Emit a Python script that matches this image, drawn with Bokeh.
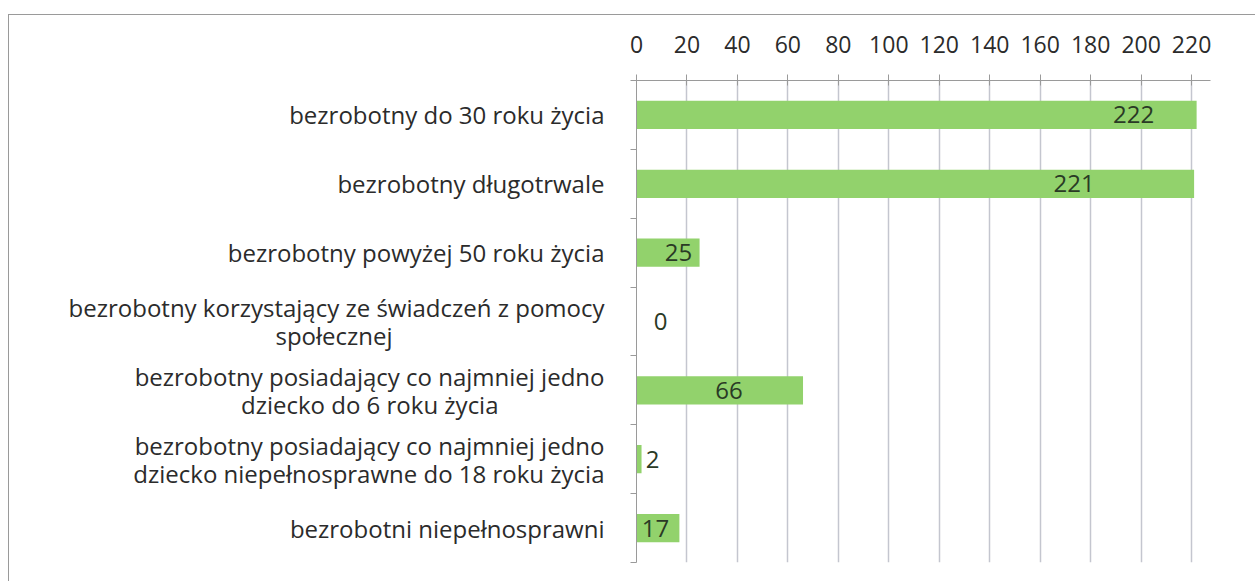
from bokeh.plotting import figure
from bokeh.models import ColumnDataSource, FixedTicker, Range1d
from bokeh.embed import file_html
from bokeh.resources import INLINE
from bokeh.core.properties import value

NB = "\u00a0"
categories = [
    "bezrobotny do 30 roku życia",
    "bezrobotny długotrwale",
    "bezrobotny powyżej 50 roku życia",
    "bezrobotny korzystający ze świadczeń z pomocy\nspołecznej",
    "bezrobotny posiadający co najmniej jedno\ndziecko do 6 roku życia",
    "bezrobotny posiadający co najmniej jedno\ndziecko niepełnosprawne do 18 roku życia",
    "bezrobotni niepełnosprawni",
]
values = [222, 221, 25, 0, 66, 2, 17]
x_ticks = [0, 20, 40, 60, 80, 100, 120, 140, 160, 180, 200, 220]

# label offsets (px) relative to bar end
label_offsets = [-63, -120, -21, 24, -74, 11, -24]
# right padding (non-breaking spaces) that centres the short line of a wrapped label
line_pad = {3: 34, 4: 17}

FONT = "Open Sans"
pos = list(range(len(categories)))
src = ColumnDataSource(dict(y=pos, v=values, lbl=[str(v) for v in values], off=label_offsets))


def axis_text(i, c):
    if i in line_pad:
        a, b = c.split("\n")
        return a + "\n" + b + NB * line_pad[i]
    return c


p = figure(width=1247, height=567, output_backend="svg", toolbar_location=None,
           x_range=Range1d(0, 227.5), y_range=Range1d(len(categories) - 0.5, -0.5),
           x_axis_location="above", min_border_left=627, min_border_right=46,
           min_border_top=65, min_border_bottom=20)
p.outline_line_color = None
p.background_fill_color = "white"
p.border_fill_color = "white"

p.hbar(y="y", left=0, right="v", height=0.41, source=src, fill_color="#92d26c", line_color=None)
p.text(x="v", y="y", text="lbl", x_offset="off", source=src, text_align="center",
       text_baseline="middle", text_font=value(FONT), text_font_size="24px", text_color="#2a3a25")

# x axis on top
xa = p.xaxis[0]
xa.ticker = FixedTicker(ticks=x_ticks)
xa.major_label_text_font = FONT
xa.major_label_text_font_size = "23px"
xa.major_label_text_color = "#2b2b2b"
xa.axis_line_color = "#9a9a9a"
xa.major_tick_line_color = "#9a9a9a"
xa.major_tick_out = 6
xa.major_tick_in = 5
xa.minor_tick_out = 0
xa.minor_tick_in = 0
xa.major_label_standoff = 22

# y axis
ya = p.yaxis[0]
ya.ticker = FixedTicker(ticks=pos, minor_ticks=[i - 0.5 for i in range(len(categories) + 1)])
ya.major_label_overrides = {i: axis_text(i, c) for i, c in enumerate(categories)}
ya.major_label_text_font = FONT
ya.major_label_text_font_size = "24px"
ya.major_label_text_line_height = 0.86
ya.major_label_text_color = "#2b2b2b"
ya.major_label_text_align = "right"
ya.axis_line_color = "#9a9a9a"
ya.major_tick_out = 0
ya.major_tick_in = 0
ya.minor_tick_out = 6
ya.minor_tick_in = 0
ya.minor_tick_line_color = "#9a9a9a"
ya.major_label_standoff = 26

p.xgrid.ticker = FixedTicker(ticks=x_ticks)
p.xgrid.grid_line_color = "#c4c6cf"
p.xgrid.grid_line_width = 1.5
p.ygrid.grid_line_color = None

p.styles = {"border-top": "1px solid #9a9a9a", "border-left": "1px solid #9a9a9a",
            "margin-top": "14px", "margin-left": "8px"}

open("out.html", "w").write(file_html(p, INLINE))
